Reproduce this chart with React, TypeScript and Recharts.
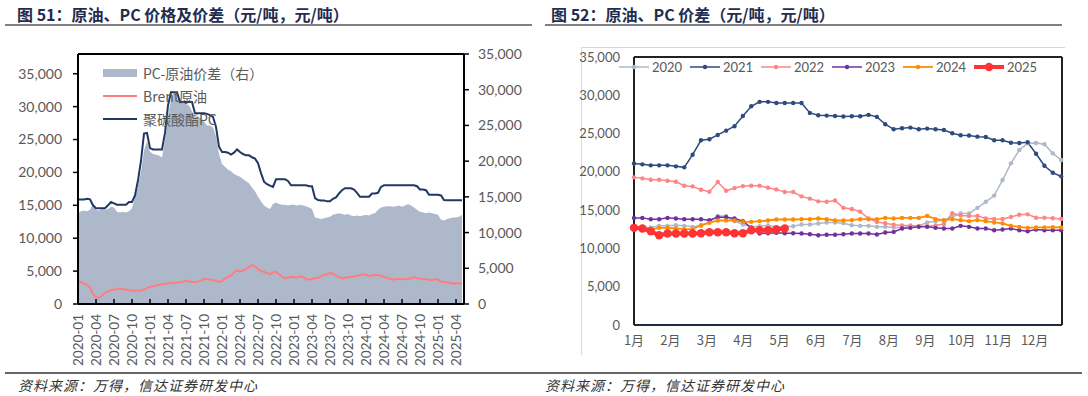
import { Area, ComposedChart, Line, LineChart, ReferenceLine, XAxis, YAxis } from "recharts";

// ---------- chart 51: half-month points from 2020-01 ----------
const leftTickLabels = [
  "2020-01", "2020-04", "2020-07", "2020-10", "2021-01", "2021-04", "2021-07", "2021-10",
  "2022-01", "2022-04", "2022-07", "2022-10", "2023-01", "2023-04", "2023-07", "2023-10",
  "2024-01", "2024-04", "2024-07", "2024-10", "2025-01", "2025-04",
];

const spreadValues = [
  12700, 13000, 13100, 13000, 13200, 14000, 13200, 13100, 13300, 13200, 13300, 13600, 13500, 12900, 12800, 12900, 12800, 13000, 13400, 14900,
  16500, 18500, 21500, 22800, 21300, 21000, 20900, 20800, 20500, 22900, 26200, 28700, 29600, 28900, 28300, 28200, 28000, 27800, 27000, 26300,
  26200, 26000, 25600, 25000, 25000, 24700, 23500, 21000, 19600, 19200, 18800, 18600, 18200, 18000, 17800, 17500, 17200, 16900, 16300, 15800,
  15000, 14400, 13800, 13500, 13300, 14000, 14200, 14000, 13900, 13900, 13800, 13900, 13900, 13800, 13900, 13800, 13700, 13500, 13300, 12100,
  12000, 11900, 12000, 12100, 12200, 12500, 12600, 12700, 12600, 12500, 12600, 12400, 12300, 12400, 12300, 12400, 12500, 12400, 12600, 12700,
  13200, 13500, 13600, 13700, 13700, 13600, 13700, 13800, 13600, 13800, 14000, 13800, 13500, 13200, 12900, 12800, 12700, 12800, 12700, 12600,
  12500, 11800, 11700, 11900, 12000, 12100, 12100, 12200, 12500,
];

const brentValues = [
  3400, 3300, 3100, 2900, 2500, 1500, 1100, 900, 1300, 1700, 1900, 2100, 2200, 2300, 2300, 2250, 2150, 2100, 2050, 2000,
  2000, 2050, 2200, 2450, 2600, 2700, 2800, 2900, 3000, 3050, 3100, 3150, 3200, 3250, 3300, 3400, 3550, 3450, 3350, 3350,
  3400, 3600, 3750, 3850, 3700, 3600, 3550, 3350, 3500, 3850, 4100, 4300, 4800, 5100, 4900, 5100, 5300, 5600, 5900, 5700,
  5300, 5000, 4900, 4700, 4500, 4800, 4900, 4500, 4200, 3900, 4000, 4100, 4100, 4000, 4200, 4100, 3800, 3700, 3800, 3900,
  4000, 4200, 4400, 4500, 4700, 4600, 4300, 4100, 3900, 4000, 4100, 4100, 4200, 4300, 4400, 4500, 4400, 4300, 4300, 4400,
  4400, 4300, 4100, 4000, 3800, 3700, 3800, 3800, 3800, 3750, 3800, 3900, 4100, 3900, 3800, 3750, 3800, 3700, 3600, 3800,
  3700, 3400, 3300, 3300, 3200, 3100, 3200, 3100, 3200,
];

const pcValues = [
  15900, 15900, 15900, 16000, 15900, 15000, 14550, 14550, 14550, 14550, 15000, 15500, 15300, 15100, 15100, 15100, 15100, 15500, 15500, 16500,
  18800, 21800, 25900, 26000, 23700, 23500, 23500, 23500, 23500, 26000, 30200, 32200, 32200, 32200, 30700, 30700, 30700, 30700, 30700, 29000,
  29000, 29000, 29000, 28900, 28700, 28450, 26900, 23900, 23100, 23100, 23000, 22700, 23000, 23500, 23100, 22800, 22600, 22600, 22300, 22100,
  21400, 19900, 18600, 18200, 18000, 17800, 18950, 18950, 18950, 18950, 18700, 18050, 18050, 18050, 18050, 18050, 18050, 17900, 17900, 16100,
  15800, 15750, 15750, 15600, 15600, 16000, 16200, 16800, 17300, 17600, 17600, 17600, 17400, 16900, 16300, 16300, 16300, 16300, 16800, 16800,
  16900, 17800, 18050, 18050, 18050, 18050, 18050, 18050, 18050, 18050, 18050, 18050, 18050, 17900, 17400, 17400, 17300, 16600, 16600, 16600,
  16600, 16500, 15800, 15770, 15770, 15770, 15770, 15770, 15770,
];

// ---------- chart 52: weekly points per year ----------
const monthLabels = ["1月", "2月", "3月", "4月", "5月", "6月", "7月", "8月", "9月", "10月", "11月", "12月"];

const y2020 = [
  12700, 12800, 12740, 12950, 12950, 13040, 12950, 12820, 12950, 13470, 14250, 14250, 13560, 13130, 12820, 12900, 13000, 12820, 12820, 12900,
  13130, 13130, 13260, 13390, 13390, 13300, 13040, 12950, 12950, 12820, 12820, 12740, 12740, 12820, 12950, 13390, 13560, 13690, 14120, 14570,
  14570, 15300, 16090, 16900, 18930, 21110, 22850, 23730, 23770, 23600, 22420, 21550,
];
const y2021 = [
  21100, 20980, 20850, 20850, 20850, 20720, 20590, 22240, 24120, 24260, 24820, 25380, 25960, 27300, 28570, 29140, 29140, 29000, 29000, 29000,
  29000, 27700, 27400, 27350, 27300, 27220, 27260, 27260, 27440, 27180, 26220, 25560, 25690, 25780, 25560, 25650, 25560, 25470, 25040, 24780,
  24740, 24600, 24560, 24120, 24120, 23810, 23770, 23860, 22370, 20800, 19880, 19410,
];
const y2022 = [
  19280, 19150, 18970, 18970, 18840, 18710, 18180, 18100, 17660, 17400, 18670, 17530, 17880, 18140, 18180, 18180, 17920, 17710, 17360, 17360,
  16800, 16500, 16150, 16090, 16250, 15300, 15150, 14800, 13900, 13450, 13300, 13100, 13000, 13000, 12900, 12900, 13000, 13200, 14600, 14300,
  14250, 14250, 13900, 13850, 13850, 14100, 14400, 14450, 14000, 14000, 13950, 13850,
];
const y2023 = [
  13990, 13990, 13820, 13820, 13990, 13900, 13820, 13820, 13820, 13690, 14080, 14080, 13900, 13560, 12700, 11950, 11990, 12040, 11990, 11990,
  11950, 11860, 11730, 11780, 11780, 11860, 11950, 11950, 11950, 11820, 12080, 12160, 12600, 12690, 12820, 12820, 12690, 12600, 12600, 12950,
  12820, 12600, 12600, 12380, 12470, 12600, 12380, 12250, 12470, 12380, 12380, 12380,
];
const y2024 = [
  12550, 12550, 12470, 12690, 12690, 12600, 12510, 12510, 13040, 13340, 13650, 13650, 13650, 13470, 13470, 13560, 13650, 13780, 13780, 13780,
  13820, 13820, 13910, 13820, 13650, 13650, 13690, 13820, 13820, 13820, 13990, 13900, 13990, 13990, 13990, 14250, 13820, 13690, 13820, 13690,
  13560, 13690, 13560, 13390, 13260, 12950, 12820, 12690, 12740, 12740, 12780, 12740,
];
const y2025 = [
  12690, 12600, 12250, 11730, 11950, 11950, 11950, 11950, 11990, 12120, 12120, 12120, 11990, 11990, 12380, 12380, 12380, 12470, 12600,
];

const yearSeries = [
  { key: "y2020", name: "2020", values: y2020, color: "#ADB9CA", width: 1.5, r: 2.2 },
  { key: "y2021", name: "2021", values: y2021, color: "#2F4A7E", width: 1.5, r: 2.2 },
  { key: "y2022", name: "2022", values: y2022, color: "#FF8585", width: 1.5, r: 2.2 },
  { key: "y2023", name: "2023", values: y2023, color: "#7030A0", width: 1.5, r: 2.2 },
  { key: "y2024", name: "2024", values: y2024, color: "#FF8C00", width: 1.8, r: 2.2 },
  { key: "y2025", name: "2025", values: y2025, color: "#FF3333", width: 4, r: 4.2 },
];

const FONT = 'Lato, "Noto Sans CJK SC", sans-serif';
const CJK = '"Noto Sans CJK SC", sans-serif';
const GREY = "#595959";

const leftData = spreadValues.map((spread, i) => ({
  m: i * 0.5,
  spread,
  brent: brentValues[i],
  pc: pcValues[i],
}));

const weeksPerMonth = 365.25 / 7 / 12;
const rightData = y2021.map((_, i) => {
  const row: Record<string, number | undefined> = { w: i };
  yearSeries.forEach((s) => {
    row[s.key] = s.values[i];
  });
  return row;
});

const fmt = (v: number) => v.toLocaleString("en-US");

function DateTick(props: any) {
  const { x, y, payload } = props;
  const label = leftTickLabels[Math.round(payload.value / 3)];
  return (
    <g>
      <line x1={x} x2={x} y1={y} y2={y - 5} stroke="#000" strokeWidth={1.5} />
      <text
        x={x}
        y={y + 10}
        transform={`rotate(-90 ${x} ${y + 10})`}
        textAnchor="end"
        dy="0.35em"
        fill={GREY}
        fontSize={13.5}
        fontFamily={FONT}
      >
        {label}
      </text>
    </g>
  );
}

function LeftLegend() {
  const items = [
    { label: "PC-原油价差（右）", kind: "area", color: "#ADB9CA" },
    { label: "Brent原油", kind: "line", color: "#FF7C80" },
    { label: "聚碳酸酯PC", kind: "line", color: "#1F3864" },
  ];
  return (
    <div style={{ position: "absolute", left: 103, top: 61, fontFamily: CJK, fontSize: 14, color: GREY }}>
      {items.map((it) => (
        <div key={it.label} style={{ display: "flex", alignItems: "center", height: 23 }}>
          <svg width={34} height={10} style={{ marginRight: 6 }}>
            {it.kind === "area" ? (
              <rect x={0} y={1} width={34} height={8} fill={it.color} />
            ) : (
              <line x1={0} x2={34} y1={5} y2={5} stroke={it.color} strokeWidth={2} />
            )}
          </svg>
          <span>{it.label}</span>
        </div>
      ))}
    </div>
  );
}

function RightLegend() {
  return (
    <div style={{ position: "absolute", left: 619, top: 59, display: "flex", fontFamily: FONT, fontSize: 13, color: GREY }}>
      {yearSeries.map((s) => (
        <div key={s.key} style={{ display: "flex", alignItems: "center", width: 71, height: 16 }}>
          <svg width={30} height={12} style={{ marginRight: 3 }}>
            <line x1={0} x2={30} y1={6} y2={6} stroke={s.color} strokeWidth={s.width} />
            <circle cx={15} cy={6} r={s.r} fill={s.color} />
          </svg>
          <span>{s.name}</span>
        </div>
      ))}
    </div>
  );
}

function LeftChart() {
  return (
    <ComposedChart width={544} height={396} data={leftData} margin={{ top: 54, left: 18, right: 20, bottom: 22 }}>
      <XAxis
        dataKey="m"
        type="number"
        domain={[0, 64.33]}
        ticks={leftTickLabels.map((_, i) => i * 3)}
        interval={0}
        height={70}
        tickSize={0}
        tickMargin={0}
        tick={<DateTick />}
        axisLine={{ stroke: "#000", strokeWidth: 2 }}
      />
      <YAxis
        yAxisId="left"
        width={60}
        domain={[0, 38000]}
        ticks={[0, 5000, 10000, 15000, 20000, 25000, 30000, 35000]}
        tickFormatter={fmt}
        tickSize={5}
        tickMargin={11}
        tick={{ fill: GREY, fontSize: 14, fontFamily: FONT }}
        tickLine={{ stroke: "#000", strokeWidth: 1.5 }}
        axisLine={{ stroke: "#000", strokeWidth: 2 }}
        allowDataOverflow
      />
      <YAxis
        yAxisId="right"
        orientation="right"
        width={60}
        domain={[0, 35000]}
        ticks={[0, 5000, 10000, 15000, 20000, 25000, 30000, 35000]}
        tickFormatter={fmt}
        tickSize={5}
        tickMargin={9}
        tick={{ fill: GREY, fontSize: 14, fontFamily: FONT, textAnchor: "start" }}
        tickLine={{ stroke: "#000", strokeWidth: 1.5 }}
        axisLine={{ stroke: "#000", strokeWidth: 2 }}
        allowDataOverflow
      />
      <Area
        yAxisId="right"
        dataKey="spread"
        name="PC-原油价差（右）"
        type="linear"
        fill="#ADB9CA"
        fillOpacity={1}
        stroke="none"
        isAnimationActive={false}
      />
      <Line yAxisId="left" dataKey="brent" name="Brent原油" type="linear" stroke="#FF7C80" strokeWidth={2} dot={false} isAnimationActive={false} />
      <Line yAxisId="left" dataKey="pc" name="聚碳酸酯PC" type="linear" stroke="#1F3864" strokeWidth={2} dot={false} isAnimationActive={false} />
      <ReferenceLine yAxisId="left" y={38000} stroke="#000" strokeWidth={2} />
    </ComposedChart>
  );
}

function RightChart() {
  return (
    <LineChart width={544} height={396} data={rightData} margin={{ top: 57, left: 30, right: 26, bottom: 41 }}>
      <XAxis
        dataKey="w"
        type="number"
        domain={[0, 51.1]}
        ticks={monthLabels.map((_, i) => i * weeksPerMonth)}
        interval={0}
        tickFormatter={(v: number) => monthLabels[Math.round(v / weeksPerMonth)]}
        height={30}
        tickSize={0}
        tickMargin={11}
        tickLine={false}
        tick={{ fill: GREY, fontSize: 13, fontFamily: CJK }}
        axisLine={{ stroke: "#1F2A44", strokeWidth: 2 }}
      />
      <YAxis
        width={60}
        domain={[0, 35000]}
        ticks={[0, 5000, 10000, 15000, 20000, 25000, 30000, 35000]}
        tickFormatter={fmt}
        tickSize={0}
        tickMargin={14}
        tickLine={false}
        tick={{ fill: GREY, fontSize: 13, fontFamily: FONT }}
        axisLine={{ stroke: "#222", strokeWidth: 2 }}
      />
      {yearSeries.map((s) => (
        <Line
          key={s.key}
          dataKey={s.key}
          name={s.name}
          type="linear"
          stroke={s.color}
          strokeWidth={s.width}
          dot={{ r: s.r, fill: s.color, stroke: s.color, strokeWidth: 0 }}
          connectNulls={false}
          isAnimationActive={false}
        />
      ))}
      <ReferenceLine y={35000} stroke="#222" strokeWidth={2} />
      <ReferenceLine x={51.1} stroke="#222" strokeWidth={2} />
    </LineChart>
  );
}

export default function App() {
  const title = { position: "absolute" as const, top: 2, fontFamily: CJK, fontSize: 16, fontWeight: 700, color: "#1F2D50", whiteSpace: "nowrap" as const };
  const source = { position: "absolute" as const, top: 375, fontFamily: CJK, fontSize: 14, fontStyle: "italic" as const, color: "#333", letterSpacing: 1, whiteSpace: "nowrap" as const };
  return (
    <div style={{ position: "absolute", left: 0, top: 0, width: 1088, height: 396, background: "#fff", overflow: "hidden" }}>
      <div style={{ ...title, left: 17 }}>图 51：原油、PC 价格及价差（元/吨，元/吨）</div>
      <div style={{ ...title, left: 551 }}>图 52：原油、PC 价差（元/吨，元/吨）</div>
      <div style={{ position: "absolute", left: 5, top: 24, width: 527, height: 1.5, background: "#808080" }} />
      <div style={{ position: "absolute", left: 545, top: 24, width: 517, height: 1.5, background: "#808080" }} />

      <div style={{ position: "absolute", left: 581, top: 47, width: 484, height: 1, background: "#D9D9D9" }} />
      <div style={{ position: "absolute", left: 581, top: 47, width: 1, height: 308, background: "#D9D9D9" }} />

      <div style={{ position: "absolute", left: 0, top: 0 }}>
        <LeftChart />
      </div>
      <div style={{ position: "absolute", left: 544, top: 0 }}>
        <RightChart />
      </div>
      <LeftLegend />
      <RightLegend />

      <div style={{ position: "absolute", left: 5, top: 372, width: 1077, height: 1.5, background: "#666" }} />
      <div style={{ ...source, left: 18 }}>资料来源：万得，信达证券研发中心</div>
      <div style={{ ...source, left: 545 }}>资料来源：万得，信达证券研发中心</div>
    </div>
  );
}
